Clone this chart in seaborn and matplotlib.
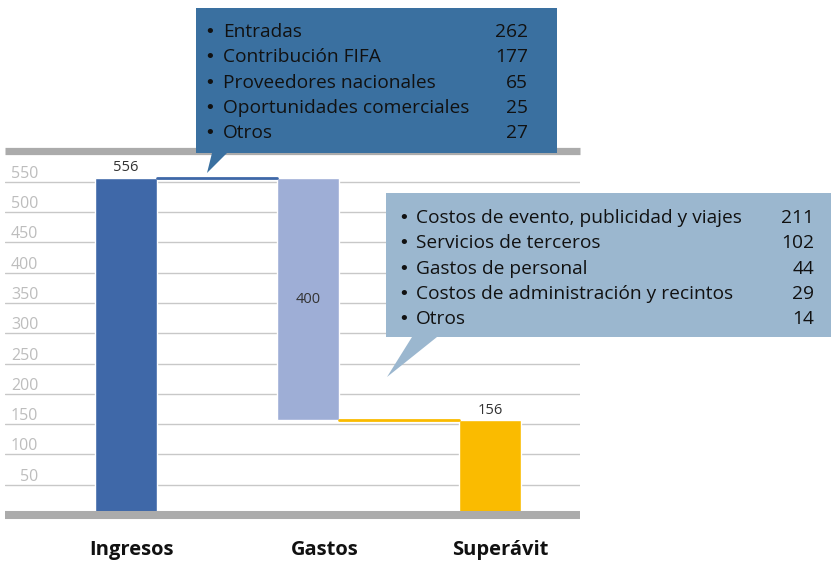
import matplotlib
matplotlib.use("Agg")
import matplotlib.pyplot as plt
from matplotlib.patches import Polygon
from matplotlib.transforms import ScaledTranslation
import seaborn as sns

# data
categories = ["Ingresos", "Gastos", "Superávit"]
values = [556, 400, 156]
bases = [0, 156, 0]
bar_colors = ["#3F68A8", "#9EAED6", "#FABB00"]

ingresos_items = ["Entradas", "Contribución FIFA", "Proveedores nacionales",
                  "Oportunidades comerciales", "Otros"]
ingresos_vals = [262, 177, 65, 25, 27]
gastos_items = ["Costos de evento, publicidad y viajes", "Servicios de terceros",
                "Gastos de personal", "Costos de administración y recintos", "Otros"]
gastos_vals = [211, 102, 44, 29, 14]

sns.set_style("white")
plt.rcParams['font.family'] = ['Open Sans', 'DejaVu Sans']

fig = plt.figure(figsize=(8.31, 5.66), dpi=100)
ax = fig.add_axes([5 / 831, 51 / 566, 575 / 831, 363.6 / 566])

sns.barplot(x=categories, y=values, hue=categories, palette=bar_colors,
            width=0.34, legend=False, saturation=1, ax=ax, zorder=3)
for p, b in zip(ax.patches, bases):
    p.set_y(b)

w = 0.34
# connectors
ax.plot([0 + w / 2, 1 - w / 2], [bases[1] + values[1]] * 2, color=bar_colors[0], lw=2, zorder=3)
ax.plot([1 + w / 2, 2 - w / 2], [bases[1]] * 2, color=bar_colors[2], lw=2, zorder=3)

# value labels
ax.annotate(str(values[0]), (0, bases[0] + values[0]), xytext=(0, 2), textcoords="offset points",
            ha="center", va="bottom", fontsize=10.5, color="#333333")
ax.text(1, bases[1] + values[1] / 2, str(values[1]), ha="center", va="center",
        fontsize=10.5, color="#333333", zorder=4)
ax.annotate(str(values[2]), (2, bases[2] + values[2]), xytext=(0, 2), textcoords="offset points",
            ha="center", va="bottom", fontsize=10.5, color="#333333")

ax.set_xlim(-0.665, 2.495)
ax.set_ylim(0, 600)
ax.set_yticks(range(50, 600, 50))
ax.yaxis.grid(True, color="#C8C8C8", lw=1)
ax.set_axisbelow(True)
ax.tick_params(axis="y", length=0, pad=-24, labelsize=11.5, labelcolor="#BDBDBD")
for lab in ax.get_yticklabels():
    lab.set_va("bottom")
ax.tick_params(axis="x", length=0, pad=18)
shifts = [5, 17, 10]
for lab, dx in zip(ax.get_xticklabels(), shifts):
    lab.set_fontweight("bold")
    lab.set_fontsize(14.5)
    lab.set_color("#111111")
    lab.set_transform(lab.get_transform() + ScaledTranslation(dx / 100, 0, fig.dpi_scale_trans))
for s in ax.spines.values():
    s.set_visible(False)
ax.axhline(0, color="#ABABAB", lw=5.8, zorder=5, clip_on=False, solid_capstyle="butt")
ax.axhline(600, color="#ABABAB", lw=5.2, zorder=1, clip_on=False, solid_capstyle="butt")
ax.set_xlabel("")
ax.set_ylabel("")

# callouts (pixel overlay)
ov = fig.add_axes([0, 0, 1, 1])
ov.set_xlim(0, 831)
ov.set_ylim(566, 0)
ov.axis("off")
ov.patch.set_alpha(0)

box1 = Polygon([(196, 8), (557, 8), (557, 153), (227, 153), (207, 173), (212, 153), (196, 153)],
               closed=True, facecolor="#3A70A0", edgecolor="none")
ov.add_patch(box1)
box2 = Polygon([(386, 193), (831, 193), (831, 337), (437, 337), (387, 377), (412, 337), (386, 337)],
               closed=True, facecolor="#9BB7CF", edgecolor="none")
ov.add_patch(box2)

fs = 13.8
for i, (name, v) in enumerate(zip(ingresos_items, ingresos_vals)):
    y = 37 + i * 25.3
    ov.text(204, y, "•", fontsize=13, color="#111111", va="baseline", family="DejaVu Sans")
    ov.text(223, y, name, fontsize=fs, color="#111111", va="baseline")
    ov.text(528, y, str(v), fontsize=fs, color="#111111", va="baseline", ha="right")

for i, (name, v) in enumerate(zip(gastos_items, gastos_vals)):
    y = 223 + i * 25.3
    ov.text(398, y, "•", fontsize=13, color="#111111", va="baseline", family="DejaVu Sans")
    ov.text(416, y, name, fontsize=fs, color="#111111", va="baseline")
    ov.text(814, y, str(v), fontsize=fs, color="#111111", va="baseline", ha="right")

fig.savefig("out.png", dpi=100)
